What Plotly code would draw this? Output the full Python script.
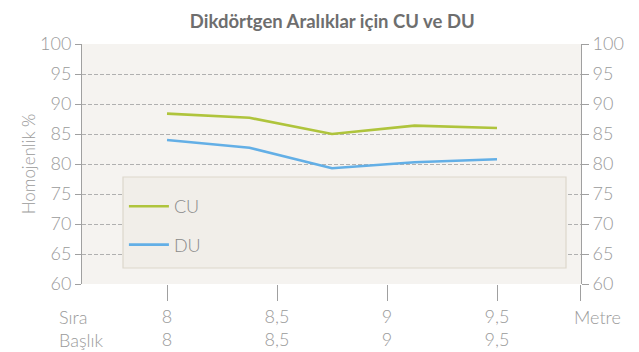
import plotly.graph_objects as go

# Spacing (metres) at which CU / DU were evaluated
spacing = [8.0, 8.375, 8.75, 9.125, 9.5]
cu_values = [88.4, 87.7, 85.0, 86.4, 86.0]
du_values = [84.0, 82.7, 79.3, 80.3, 80.8]

# Axis labels: row spacing (Sıra) and head spacing (Başlık)
tick_positions = [8.0, 8.5, 9.0, 9.5]
sira_labels = ["8", "8,5", "9", "9,5"]
baslik_labels = ["8", "8,5", "9", "9,5"]
y_ticks = [60, 65, 70, 75, 80, 85, 90, 95, 100]

X_RANGE = [7.6136, 9.8818]
Y_RANGE = [60, 100]

FONT = "Lato"
TXT = "#9a9a9a"
AXIS = "#a0a0a0"
GRID = "#b0b0b0"

fig = go.Figure()
fig.add_trace(go.Scatter(x=spacing, y=cu_values, name="CU", mode="lines",
                         line=dict(color="#afc43c", width=2.6), legendgroup="cu"))
fig.add_trace(go.Scatter(x=spacing, y=du_values, name="DU", mode="lines",
                         line=dict(color="#63afe6", width=2.6), legendgroup="du"))
# invisible trace so the right-hand axis is drawn
fig.add_trace(go.Scatter(x=[spacing[0]], y=[Y_RANGE[0]], yaxis="y2", mode="none",
                         showlegend=False, hoverinfo="skip"))

ticktext = [f"{a}<br>{b}" for a, b in zip(sira_labels, baslik_labels)] + [""]
tickvals = tick_positions + [X_RANGE[1] - 0.0005]

fig.update_layout(
    width=639, height=352,
    margin=dict(l=82, r=58, t=44, b=68),
    paper_bgcolor="white",
    plot_bgcolor="#f5f3f0",
    font=dict(family=FONT, color=TXT, size=18, weight=300),
    title=dict(text="Dikdörtgen Aralıklar için CU ve DU", x=0.52, xanchor="center",
               y=0.94, yanchor="middle",
               font=dict(family=FONT, size=18.5, color="#6e6e6e", weight=700)),
    xaxis=dict(range=X_RANGE, tickvals=tickvals, ticktext=ticktext,
               showgrid=False, zeroline=False, showline=False, automargin=False,
               ticks="outside", ticklen=16, tickcolor=AXIS, tickwidth=1,
               tickfont=dict(size=18, color=TXT, family=FONT, weight=300)),
    yaxis=dict(range=Y_RANGE, tickvals=y_ticks, showgrid=True, gridcolor=GRID,
               griddash="4px,2px", gridwidth=1, zeroline=False, automargin=False,
               showline=True, linecolor=AXIS, linewidth=1,
               ticks="outside", ticklen=6, tickcolor=AXIS,
               tickfont=dict(size=18, color=TXT, family=FONT, weight=300),
               title=dict(text="Homojenlik %", standoff=0,
                          font=dict(size=17, color=TXT, family=FONT, weight=300))),
    yaxis2=dict(range=Y_RANGE, tickvals=y_ticks, overlaying="y", side="right",
                showgrid=False, zeroline=False, showline=True, linecolor=AXIS,
                linewidth=1, ticks="outside", ticklen=7, tickcolor=AXIS,
                automargin=False,
                tickfont=dict(size=18, color=TXT, family=FONT, weight=300)),
    showlegend=True,
    legend=dict(x=0.084, y=0.40, xanchor="left", yanchor="top",
                bgcolor="rgba(0,0,0,0)", borderwidth=0, tracegroupgap=12,
                itemwidth=40,
                font=dict(size=18, color="#8a8a8a", family=FONT, weight=300)),
    shapes=[dict(type="rect", xref="paper", yref="paper",
                 x0=(123 - 82) / 499, x1=(566 - 82) / 499,
                 y0=(284 - 268) / 240, y1=(284 - 177) / 240,
                 fillcolor="#f1eee9", line=dict(color="#ddd7cc", width=1.2),
                 layer="above")],
    annotations=[
        dict(text="Sıra<br>Başlık", x=(57 - 82) / 499, xref="paper", y=-0.085,
             yref="paper", showarrow=False, xanchor="left", yanchor="top",
             align="left", font=dict(size=18, color=TXT, family=FONT, weight=300)),
        dict(text="Metre", x=1.0, xref="paper", y=-0.085, yref="paper", xshift=-9,
             showarrow=False, xanchor="left", yanchor="top",
             font=dict(size=18, color=TXT, family=FONT, weight=300)),
    ],
)

fig.write_html("out.html")
